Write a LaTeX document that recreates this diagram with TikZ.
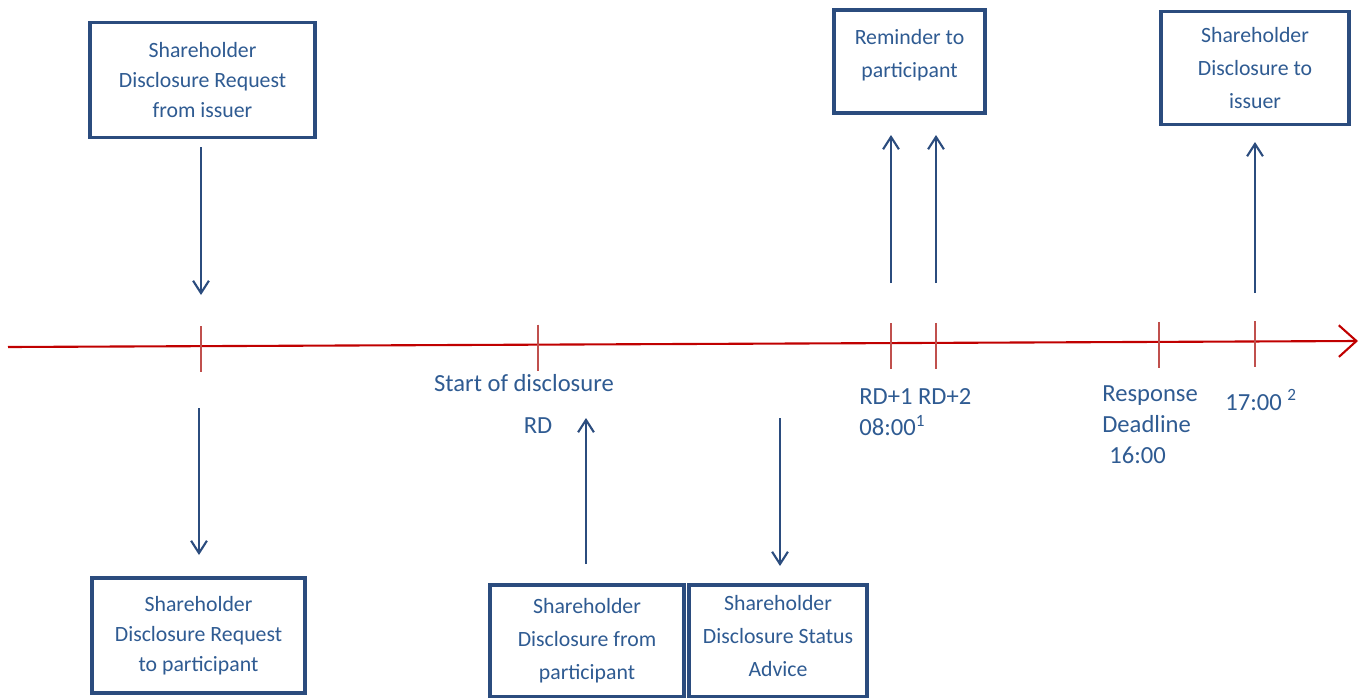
\documentclass[tikz,border=0pt]{standalone}
\usepackage{fontspec}
\setmainfont{Carlito}
\usetikzlibrary{arrows.meta}
\definecolor{BoxBlue}{HTML}{2B4C7E}
\definecolor{TextBlue}{HTML}{2F5B92}
\definecolor{TimeRed}{HTML}{C00000}
\definecolor{TickRed}{HTML}{C0504D}

\begin{document}
\begin{tikzpicture}[
    x=0.02cm, y=-0.02cm,
    msgbox/.style={draw=BoxBlue, line width=1.9pt, fill=white, align=center, text=TextBlue, font=\fontsize{12.4}{17}\selectfont, inner sep=0pt},
    loosebox/.style={msgbox, font=\fontsize{12.4}{18.7}\selectfont},
    timelabel/.style={text=TextBlue, font=\fontsize{14}{17.6}\selectfont, inner sep=0pt},
    timeline/.style={draw=TimeRed, line width=1.2pt, -{Straight Barb[length=10pt,width=18pt]}},
    tickmark/.style={draw=TickRed, line width=1pt},
    flow/.style={draw=BoxBlue, line width=1.2pt, -{Straight Barb[length=7pt,width=9pt]}}
]

\useasboundingbox (0,0) rectangle (1363,697);

% time axis
\coordinate (tstart) at (8,347);
\coordinate (tend) at (1358,341);
\draw[timeline] (tstart) -- (tend);
\foreach \tx in {201,538,891,936,1159,1255}
    \draw[tickmark] (\tx,{347-6*(\tx-8)/1350-20}) -- (\tx,{347-6*(\tx-8)/1350+26});

% messages above the axis
\node[msgbox, minimum width=4.5cm, minimum height=2.3cm] (reqissuer) at (202.5,80)
      {Shareholder\\Disclosure Request\\from issuer};
\node[loosebox, minimum width=3.02cm, minimum height=2.06cm] (reminder) at (909.5,61.5)
      {Reminder to\\participant\\[-9.6pt]\mbox{}};
\node[loosebox, minimum width=3.76cm, minimum height=2.26cm] (discissuer) at (1255,68)
      {Shareholder\\Disclosure to\\issuer};

% messages below the axis
\node[msgbox, minimum width=4.26cm, minimum height=2.3cm] (reqpart) at (198.5,635.5)
      {Shareholder\\Disclosure Request\\to participant};
\node[loosebox, minimum width=3.88cm, minimum height=2.24cm] (fromparticipant) at (587,641)
      {Shareholder\\Disclosure from\\participant};
\node[loosebox, minimum width=3.56cm, minimum height=2.24cm] (statusadvice) at (778,641)
      {Shareholder\\Disclosure Status\\Advice\\[-13pt]\mbox{}};

% labels on the axis
\node[timelabel] (startlbl) at (524,383) {Start of disclosure};
\node[timelabel] (rdlbl) at (538,426) {RD};
\node[timelabel, anchor=west, align=left] (rdplus) at (859,412) {RD+1 RD+2\\08:00\textsuperscript{1}};
\node[timelabel, anchor=west, align=left] (deadline) at (1102,425) {Response\\Deadline\\\hspace{4pt}16:00};
\node[timelabel, anchor=west] (fivepm) at (1225,400) {17:00 \textsuperscript{2}};

% arrow ends
\coordinate (a1top) at (201,147);  \coordinate (a1bot) at (201,295);
\coordinate (a2top) at (199,408);  \coordinate (a2bot) at (199,555);
\coordinate (a3top) at (586,418);  \coordinate (a3bot) at (586,564);
\coordinate (a4top) at (780,418);  \coordinate (a4bot) at (780,566);
\coordinate (a5top) at (891,135);  \coordinate (a5bot) at (891,283);
\coordinate (a6top) at (936,135);  \coordinate (a6bot) at (936,283);
\coordinate (a7top) at (1255,142); \coordinate (a7bot) at (1255,293);

\draw[flow] (a1top) -- (a1bot);
\draw[flow] (a2top) -- (a2bot);
\draw[flow] (a3bot) -- (a3top);
\draw[flow] (a4top) -- (a4bot);
\draw[flow] (a5bot) -- (a5top);
\draw[flow] (a6bot) -- (a6top);
\draw[flow] (a7bot) -- (a7top);

\end{tikzpicture}
\end{document}
